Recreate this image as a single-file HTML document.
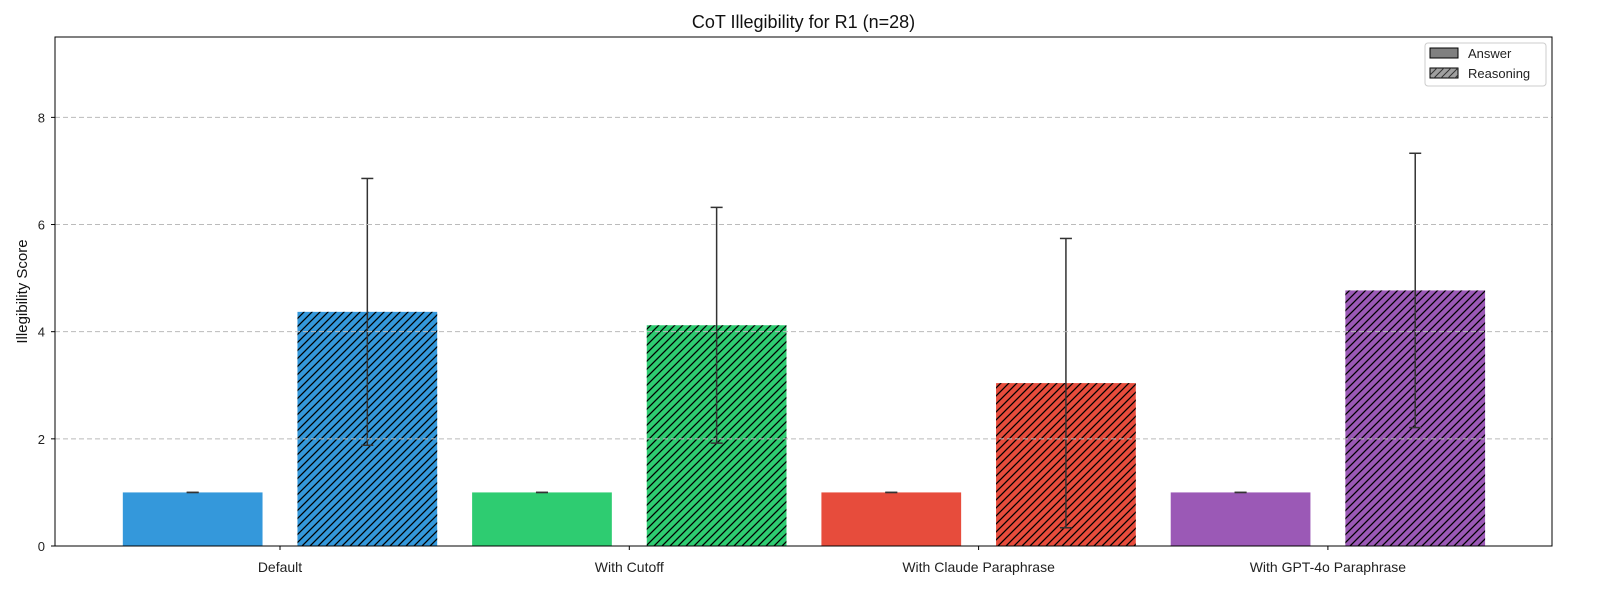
<!DOCTYPE html>
<html><head><meta charset="utf-8"><style>
html,body{margin:0;padding:0;background:#fff}
svg{display:block;font-family:"Liberation Sans","DejaVu Sans",sans-serif}
</style></head><body>
<svg id="chart" width="1600" height="600" viewBox="0 0 1600 600" xmlns="http://www.w3.org/2000/svg">
<defs>
<pattern id="hatch" patternUnits="userSpaceOnUse" width="8" height="8">
<path d="M-2,2 L2,-2 M0,8 L8,0 M6,10 L10,6" stroke="#000" stroke-width="1.3"/>
</pattern>
<pattern id="hatchL" patternUnits="userSpaceOnUse" width="7" height="7">
<path d="M-2,2 L2,-2 M0,7 L7,0 M5,9 L9,5" stroke="#333" stroke-width="1"/>
</pattern>
</defs>
<g id="plot"></g>
</svg>
<script>
const categories=["Default","With Cutoff","With Claude Paraphrase","With GPT-4o Paraphrase"];
const colors=["#3498db","#2ecc71","#e74c3c","#9b59b6"];
const answerVals=[1.0,1.0,1.0,1.0];
const answerErr=[0.0,0.0,0.0,0.0];
const reasoningVals=[4.37,4.12,3.04,4.77];
const reasoningErr=[2.49,2.2,2.7,2.56];
const yTicks=[0,2,4,6,8];

const L=55,R=1552,T=37,B=546,YMAX=9.5;
const unit=349.3,x0=280;
const xs=i=>x0+i*unit;
const ys=v=>B-(v/YMAX)*(B-T);
const NS="http://www.w3.org/2000/svg";
const g=document.getElementById('plot');
function el(t,a,p){const e=document.createElementNS(NS,t);for(const k in a)e.setAttribute(k,a[k]);(p||g).appendChild(e);return e;}

const bw=0.4*unit,off=0.25*unit;
function bar(cx,v,e,fill,hatch,name){
  const r=el('rect',{x:cx-bw/2,y:ys(v),width:bw,height:ys(0)-ys(v),fill:fill});
  
  
  if(hatch){const h=el('rect',{x:cx-bw/2,y:ys(v),width:bw,height:ys(0)-ys(v),fill:'url(#hatch)'});
    
    }
  const eg=el('g',{stroke:'#333','stroke-width':1.5});
  
  
  el('line',{x1:cx,x2:cx,y1:ys(v+e),y2:ys(v-e)},eg);
  el('line',{x1:cx-6,x2:cx+6,y1:ys(v+e),y2:ys(v+e)},eg);
  el('line',{x1:cx-6,x2:cx+6,y1:ys(v-e),y2:ys(v-e)},eg);
}
categories.forEach((c,i)=>{
  bar(xs(i)-off,answerVals[i],answerErr[i],colors[i],false,'answer-bar-'+i);
  bar(xs(i)+off,reasoningVals[i],reasoningErr[i],colors[i],true,'reasoning-bar-'+i);
  el('line',{x1:xs(i),x2:xs(i),y1:B,y2:B+4,stroke:'#000'});
  const t=el('text',{x:xs(i),y:B+26,'text-anchor':'middle','font-size':14,fill:'#222'});
  t.textContent=c;
  
  
});
yTicks.forEach(v=>{
  if(v>0){const gl=el('line',{x1:L,x2:R,y1:ys(v),y2:ys(v),stroke:'#bbb','stroke-dasharray':'5,3','stroke-width':1});
    
    }
  el('line',{x1:L-4,x2:L,y1:ys(v),y2:ys(v),stroke:'#000'});
  const t=el('text',{x:L-10,y:ys(v)+5,'text-anchor':'end','font-size':13,fill:'#222'});
  t.textContent=v;
  
  
});
const fr=el('rect',{x:L,y:T,width:R-L,height:B-T,fill:'none',stroke:'#000','stroke-width':1});


const ti=el('text',{x:(L+R)/2,y:28,'text-anchor':'middle','font-size':18,fill:'#111'});
ti.textContent='CoT Illegibility for R1 (n=28)';


const yl=el('text',{x:0,y:0,'text-anchor':'middle','font-size':15,fill:'#111',transform:`translate(27,${(T+B)/2}) rotate(-90)`});
yl.textContent='Illegibility Score';


// legend
const lg=el('g',{});


el('rect',{x:1425,y:43,width:121,height:43,rx:3,fill:'#fff',stroke:'#ccc'},lg);
el('rect',{x:1430,y:48,width:28,height:10,fill:'#808080',stroke:'#000'},lg);
el('rect',{x:1430,y:68,width:28,height:10,fill:'#a0a0a0',stroke:'#000'},lg);
el('rect',{x:1430,y:68,width:28,height:10,fill:'url(#hatchL)'},lg);
const a=el('text',{x:1468,y:58,'font-size':13,fill:'#222'},lg);a.textContent='Answer';


const r=el('text',{x:1468,y:78,'font-size':13,fill:'#222'},lg);r.textContent='Reasoning';


</script>
</body></html>
